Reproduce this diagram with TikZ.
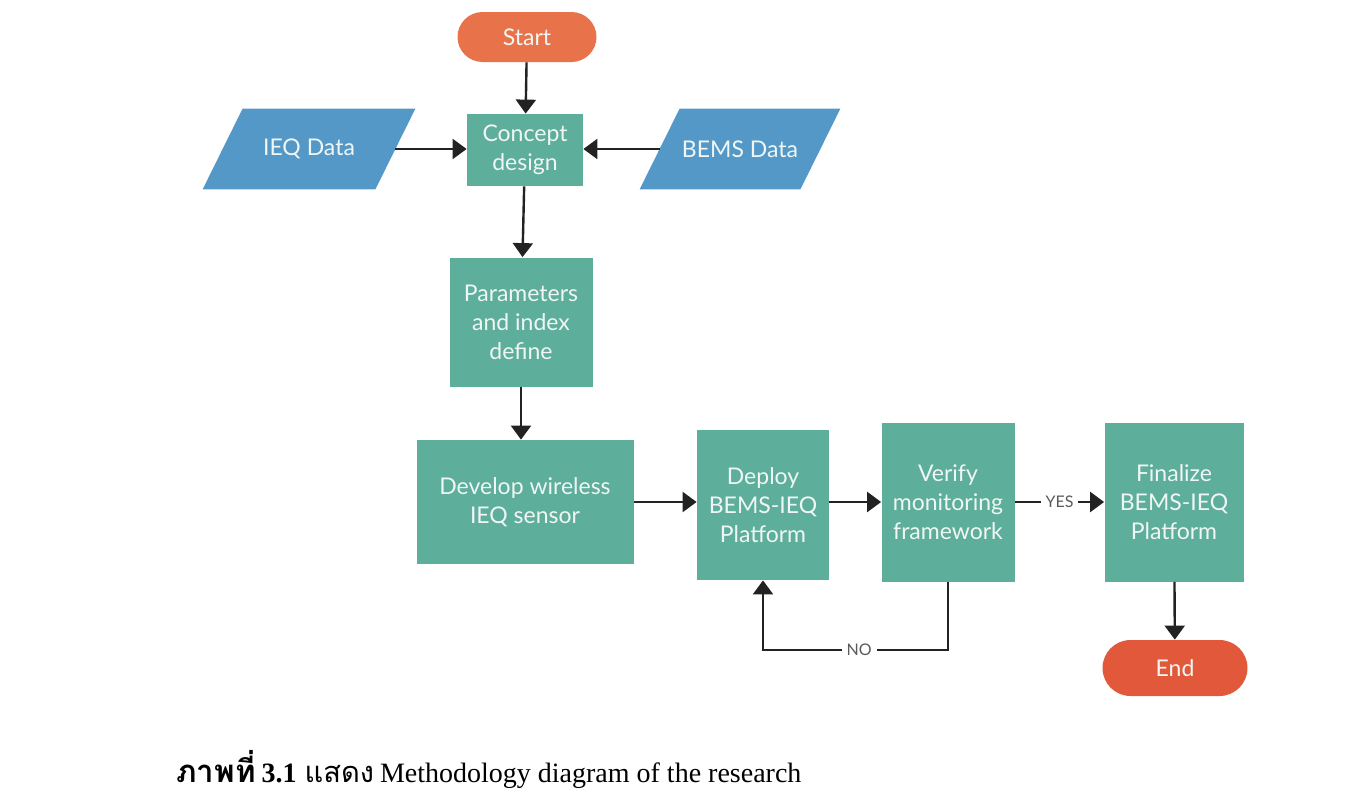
\documentclass[tikz,border=0pt]{standalone}
\usepackage{fontspec}
\setmainfont{Lato}
\newfontfamily\capfont{Liberation Serif}
\newfontfamily\thaifont[Script=Thai]{Loma}
\usetikzlibrary{positioning,arrows.meta,shapes.geometric,backgrounds}
\definecolor{flowteal}{RGB}{93,174,155}
\definecolor{startorange}{RGB}{232,115,74}
\definecolor{endred}{RGB}{226,88,58}
\definecolor{datablue}{RGB}{84,152,199}
\definecolor{boxtext}{RGB}{240,246,244}
\definecolor{linedark}{RGB}{34,34,34}
\definecolor{labelgray}{RGB}{90,90,90}

\begin{document}
\begin{tikzpicture}[x=.5pt,y=-.5pt,
    every node/.style={font=\fontsize{11.5}{14.5}\selectfont,text=boxtext,align=center,inner sep=0pt},
    procbox/.style={fill=flowteal},
    pillbox/.style={rounded corners=12.5pt,minimum width=69.5pt,minimum height=25pt},
    databox/.style={minimum height=40pt},
    arr/.style={draw=linedark,line width=1.2pt,-{Triangle[width=10pt,length=7pt]}},
    lbl/.style={fill=white,text=labelgray,font=\fontsize{8}{9}\selectfont,inner sep=2.5pt}]
  \useasboundingbox (0,0) rectangle (1356,809);
  % top part
  \node[pillbox,fill=startorange] (start) at (527,37) {Start};
  \node[procbox,minimum width=58pt,minimum height=36pt] (concept) at (525,150) {Concept\\design};
  \node[databox,minimum width=86pt] (ieq) at (309,149) {IEQ Data};
  \node[databox,minimum width=80pt] (bems) at (740,149) {BEMS Data};
  \begin{scope}[on background layer]
    \foreach \dat in {ieq,bems}{
      \fill[datablue] ([xshift=-10pt]\dat.south west) -- ([xshift=10pt]\dat.north west)
        -- ([xshift=10pt]\dat.north east) -- ([xshift=-10pt]\dat.south east) -- cycle;}
  \end{scope}
  \node[procbox,minimum width=71.5pt,minimum height=64.5pt] (param) at (521,322) {Parameters\\and index\\define};
  % bottom row
  \node[procbox,minimum width=108.5pt,minimum height=62pt] (develop) at (525,502) {Develop wireless\\IEQ sensor};
  \node[procbox,minimum width=66pt,minimum height=75pt] (deploy) at (763,505) {Deploy\\BEMS-IEQ\\Platform};
  \node[procbox,minimum width=66.5pt,minimum height=79.5pt] (verify) at (948,502) {Verify\\monitoring\\framework};
  \node[procbox,minimum width=69.5pt,minimum height=79.5pt] (final) at (1174,502) {Finalize\\BEMS-IEQ\\Platform};
  \node[pillbox,fill=endred,minimum width=72.5pt,minimum height=28pt,rounded corners=14pt] (finish) at (1175,668) {End};
  \coordinate (nobend) at (950,650);
  % connectors
  \draw[arr] (start) -- (concept);
  \draw[arr] (ieq.east) -- (ieq.east -| concept.west);
  \draw[arr] (bems.west) -- (bems.west -| concept.east);
  \draw[arr] (concept) -- (param);
  \draw[arr] (param) -- (param.south |- develop.north);
  \draw[arr] (develop.east) -- (develop.east -| deploy.west);
  \draw[arr] (verify.west -| deploy.east) -- (verify.west);
  \draw[arr] (verify.east) -- node[lbl]{YES} (final.west);
  \draw[arr] (verify.south) -- (verify.south |- nobend) -| node[lbl,pos=.24]{NO} (deploy.south);
  \draw[arr] (final) -- (finish);
  % caption
  \node[anchor=base west,text=black,font=\fontsize{14}{18}\selectfont] (caption) at (176,782)
    {{\thaifont\fontsize{15.6}{18}\selectfont\bfseries ภาพที่}\hspace{3pt}{\capfont\bfseries 3.1}\hspace{4pt}{\thaifont\fontsize{14.5}{18}\selectfont แสดง}\hspace{3pt}\capfont Methodology diagram of the research};
\end{tikzpicture}
\end{document}
